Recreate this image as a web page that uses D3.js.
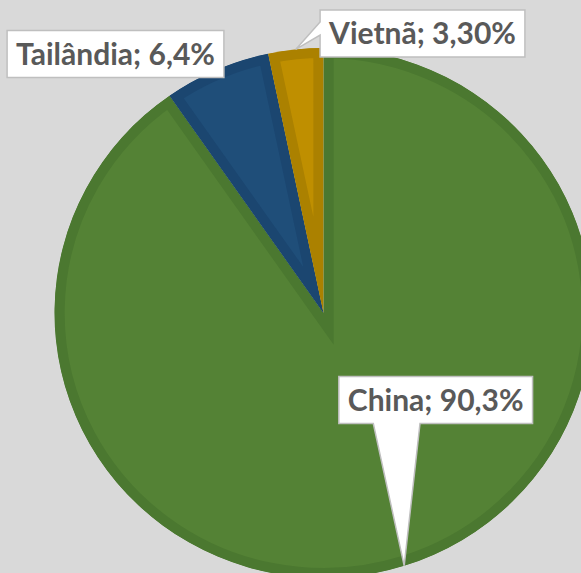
<!DOCTYPE html>
<html><head><meta charset="utf-8">
<script src="https://cdn.jsdelivr.net/npm/d3@7"></script>
<style>html,body{margin:0;padding:0;background:#d9d9d9;overflow:hidden}</style>
</head><body>
<svg id="chart" width="581" height="573"></svg>
<script>
// ---- data ----
const categories = ["China", "Tailândia", "Vietnã"];
const values = [90.3, 6.4, 3.3];
const valueLabels = ["90,3%", "6,4%", "3,30%"];

// ---- styles ----
const fills = ["#548235", "#1f4e79", "#bf8f00"];
const bands = ["#4b7830", "#1b4670", "#ab8100"];

const W = 581, H = 573;
const svg = d3.select("#chart");
svg.append("rect").attr("width", W).attr("height", H).attr("fill", "#d9d9d9");

const cx = 323.5, cy = 313, r = 265, sx = 1.015;
const pie = d3.pie().sort(null).value(d => d.value);
const arcs = pie(categories.map((c, i) => ({cat: c, value: values[i], label: valueLabels[i]})));
const arc = d3.arc().innerRadius(0).outerRadius(r);

const defs = svg.append("defs");
arcs.forEach((a, i) => {
  defs.append("clipPath").attr("id", "clip" + i).append("path").attr("d", arc(a));
});

const g = svg.append("g").attr("transform", `translate(${cx},${cy}) scale(${sx},1)`);
g.selectAll("path.slice").data(arcs).join("path")
  .attr("class", "slice")
  .attr("d", arc)
  .attr("fill", (d, i) => fills[i])
  .attr("stroke", (d, i) => bands[i])
  .attr("stroke-width", 20)
  .attr("stroke-linejoin", "miter")
  .attr("stroke-miterlimit", 10)
  .attr("clip-path", (d, i) => `url(#clip${i})`);

// ---- labels (callouts) ----
const layout = {
  "China":     {bx: 435.7, by: 400, pointer: "bottom", pa: 373.3, pb: 420},
  "Tailândia": {bx: 115.5, by: 54,  pointer: null},
  "Vietnã":    {bx: 422.5, by: 33.5, pointer: "left", pa: 22, pb: 35}
};
const boxH = 47, pad = 9;
const labelG = svg.append("g");

arcs.forEach((a, i) => {
  const L = layout[a.data.cat];
  const mid = (a.startAngle + a.endAngle) / 2;
  const tx = cx + Math.sin(mid) * r * sx, ty = cy - Math.cos(mid) * r;
  const grp = labelG.append("g");
  const shape = grp.append("path");
  const text = grp.append("text")
    .attr("x", L.bx).attr("y", L.by)
    .attr("dy", "0.36em")
    .attr("text-anchor", "middle")
    .attr("font-family", "Lato, 'Open Sans', sans-serif")
    .attr("font-weight", "bold")
    .attr("font-size", 30)
    .attr("fill", "#595959")
    .text(`${a.data.cat}; ${a.data.label}`);
  const tw = text.node().getComputedTextLength();
  const x0 = L.bx - tw / 2 - pad, x1 = L.bx + tw / 2 + pad;
  const y0 = L.by - boxH / 2, y1 = L.by + boxH / 2;
  let d;
  if (L.pointer === "bottom") {
    d = `M${x0},${y0}H${x1}V${y1}H${L.pb}L${tx},${ty}L${L.pa},${y1}H${x0}Z`;
  } else if (L.pointer === "left") {
    d = `M${x0},${y0}H${x1}V${y1}H${x0}V${L.pb}L${tx},${ty}L${x0},${L.pa}Z`;
  } else {
    d = `M${x0},${y0}H${x1}V${y1}H${x0}Z`;
  }
  shape.attr("d", d).attr("fill", "#ffffff").attr("stroke", "#bfbfbf").attr("stroke-width", 1.5)
    .attr("stroke-linejoin", "miter");
});
</script>
</body></html>
